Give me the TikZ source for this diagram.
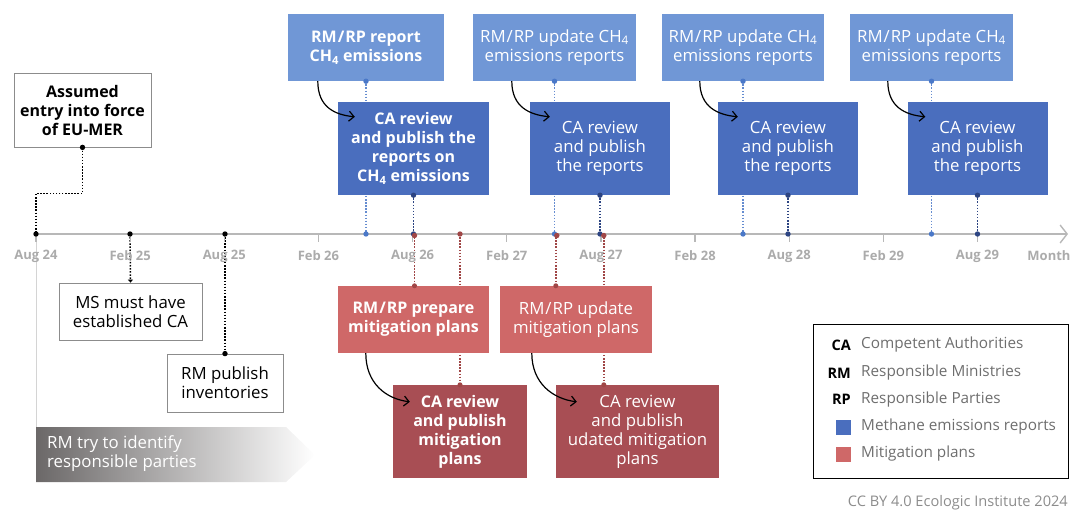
\documentclass[tikz,border=0pt]{standalone}
\usepackage{fontspec}
\setmainfont{Open Sans}
\usetikzlibrary{arrows.meta,calc}
\pgfdeclarelayer{bg}
\pgfsetlayers{bg,main}
\definecolor{lblue}{HTML}{7097D6}
\definecolor{dblue}{HTML}{4A6EBE}
\definecolor{lred}{HTML}{CF6868}
\definecolor{dred}{HTML}{A84E54}
\definecolor{dotblue}{HTML}{4A78C8}
\definecolor{dotnavy}{HTML}{2C4482}
\definecolor{dotred}{HTML}{A04646}
\definecolor{axisgray}{HTML}{B8B8B8}
\definecolor{labgray}{HTML}{ABABAB}
\definecolor{boxgray}{HTML}{8C8C8C}
\definecolor{descgray}{HTML}{6E6E6E}
\definecolor{copygray}{HTML}{8C8C8C}
\definecolor{gradgray}{HTML}{6B6868}
\definecolor{vlgray}{HTML}{D4D4D4}
\begin{document}
\begin{tikzpicture}[x=1pt,y=-1pt,
  every node/.style={inner sep=0pt, font=\fontsize{16.8}{19}\selectfont},
  bld/.style={font=\fontsize{16}{19}\selectfont\bfseries},
  legtxt/.style={text=descgray,font=\fontsize{15.3}{18}\selectfont},
  legkey/.style={font=\fontsize{14.5}{18}\selectfont\bfseries},
  lbbox/.style={fill=lblue,text=white,align=center},
  dbbox/.style={fill=dblue,text=white,align=center},
  lrbox/.style={fill=lred,text=white,align=center},
  drbox/.style={fill=dred,text=white,align=center},
  wbox/.style={draw=boxgray,line width=0.8pt,fill=white,text=black,align=center},
  conn/.style={line width=1.5pt,dash pattern=on 1.5pt off 1.6pt},
  carrow/.style={black,line width=1.2pt,-{Straight Barb[length=5pt,width=10pt]}},
  monthlab/.style={text=labgray,font=\fontsize{13}{16}\selectfont\bfseries}
]
\useasboundingbox (0,0) rectangle (1072,512);

% axis
\coordinate (axs) at (36,234);
\coordinate (axe) at (1068,234);
\draw[axisgray,line width=1.6pt,-{Straight Barb[length=7pt,width=18pt,line width=1.4pt]}] (axs) -- (axe);
\foreach \i/\lab in {0/Aug 24,1/Feb 25,2/Aug 25,3/Feb 26,4/Aug 26,5/Feb 27,6/Aug 27,7/Feb 28,8/Aug 28,9/Feb 29,10/Aug 29}{
  \draw[axisgray,line width=1.2pt] (36+\i*94.15,234) -- ++(0,8);
  \node[monthlab] (lab\i) at (36+\i*94.15,256) {\lab};
}
\node[monthlab] (labm) at (1049,256) {Month};

% gradient arrow
\coordinate (gradtop) at (36,427);
\shade[left color=gradgray,right color=white] (36,427) -- (286,427) -- (315,455) -- (286,482) -- (36,482) -- cycle;
\node[anchor=west,text=white,align=left] (rmtry) at (47,454) {RM try to identify\\responsible parties};

% top boxes
\node[lbbox,bld,minimum width=156pt,minimum height=67pt] (t1) at (366,47.5) {RM\kern1pt/\kern1ptRP report\\CH\textsubscript{4} emissions};
\node[lbbox,minimum width=163pt,minimum height=67pt] (t2) at (554.5,47.5) {RM\kern1pt/\kern1ptRP update CH\textsubscript{4}\\emissions reports};
\node[lbbox,minimum width=162pt,minimum height=67pt] (t3) at (743,47.5) {RM\kern1pt/\kern1ptRP update CH\textsubscript{4}\\emissions reports};
\node[lbbox,minimum width=163pt,minimum height=67pt] (t4) at (931.5,47.5) {RM\kern1pt/\kern1ptRP update CH\textsubscript{4}\\emissions reports};

\node[dbbox,bld,minimum width=151pt,minimum height=93pt] (d1) at (413.5,148.5) {CA review\\and publish the\\reports on\\CH\textsubscript{4} emissions};
\node[dbbox,minimum width=140pt,minimum height=93pt] (d2) at (600,148.5) {CA review\\and publish\\the reports};
\node[dbbox,minimum width=140pt,minimum height=93pt] (d3) at (788,148.5) {CA review\\and publish\\the reports};
\node[dbbox,minimum width=140pt,minimum height=93pt] (d4) at (977.5,148.5) {CA review\\and publish\\the reports};

% red boxes
\node[lrbox,bld,minimum width=151pt,minimum height=67pt] (r1) at (413.5,319.5) {RM\kern1pt/\kern1ptRP prepare\\mitigation plans};
\node[lrbox,minimum width=152pt,minimum height=67pt] (r2) at (576,319.5) {RM\kern1pt/\kern1ptRP update\\mitigation plans};
\node[drbox,bld,minimum width=134pt,minimum height=93pt] (rd1) at (460,431.5) {CA review\\and publish\\mitigation\\plans};
\node[drbox,minimum width=163pt,minimum height=93pt] (rd2) at (637.5,431.5) {CA review\\and publish\\udated mitigation\\plans};

% white boxes
\node[wbox,bld,minimum width=137pt,minimum height=74pt] (assumed) at (82.5,110) {Assumed\\entry into force\\of EU-MER};
\node[wbox,minimum width=143pt,minimum height=57pt] (ms) at (130.5,311.5) {MS must have\\established CA};
\node[wbox,minimum width=116pt,minimum height=58pt] (rmp) at (225,383) {RM publish\\inventories};

% named points
\coordinate (f25) at (130,234);
\coordinate (a25) at (225,234);
\coordinate (r2top) at ($(r2.north west)+(56,0)$);
\coordinate (rd2top) at ($(rd2.north west)+(47,0)$);

% connectors in background
\begin{pgfonlayer}{bg}
\draw[vlgray,line width=0.8pt] (axs) -- (gradtop);
\foreach \b in {t1,t2,t3,t4}{
  \draw[conn,dotblue!85] (\b.south) -- (\b.south |- axs);
}
\foreach \b in {d1,d2,d3,d4}{
  \draw[conn,dotnavy] (\b.south) -- (\b.south |- axs);
}
\draw[conn,dotred] ($(r1.north |- axs)+(1,0)$) -- ($(r1.north)+(1,0)$);
\draw[conn,dotred] (rd1.north |- axs) -- (rd1.north);
\draw[conn,dotred] (r2top |- axs) -- (r2top);
\draw[conn,dotred] ($(rd2top |- axs)+(1,0)$) -- ($(rd2top)+(1,0)$);
\draw[conn,black] (assumed.south) -- ++(0,46) -| (axs);
\draw[conn,black,-{Triangle[length=3pt,width=5pt]}] (f25) -- (ms.north);
\draw[conn,black] (a25) -- (rmp.north);
\end{pgfonlayer}

% dots
\foreach \b in {t1,t2,t3,t4}{
  \fill[dotblue] (\b.south) circle (2.7pt);
  \fill[dotblue] (\b.south |- axs) circle (2.7pt);
}
\foreach \b in {d1,d2,d3,d4}{
  \fill[dotnavy] (\b.south) circle (2.7pt);
  \fill[dotnavy] (\b.south |- axs) circle (2.7pt);
}
\fill[dotred] ($(r1.north |- axs)+(1,1.5)$) circle (2.7pt);
\fill[dotred] ($(r1.north)+(1,0)$) circle (2.5pt);
\fill[dotred] (rd1.north |- axs) circle (2.7pt);
\fill[dotred] (rd1.north) circle (2.5pt);
\fill[dotred] ($(r2top |- axs)+(1,1.5)$) circle (2.7pt);
\fill[dotred] (r2top) circle (2.5pt);
\fill[dotred] ($(rd2top |- axs)+(1,1.5)$) circle (2.7pt);
\fill[dotred] ($(rd2top)+(1,0)$) circle (2.5pt);
\fill[black] (assumed.south) circle (2.7pt);
\fill[black] (axs) circle (2.7pt);
\fill[black] (f25) circle (2.7pt);
\fill[black] (a25) circle (2.7pt);
\fill[black] (rmp.north) circle (2.7pt);

% curved arrows
\coordinate (t1s) at ($(t1.south west)+(30,0)$);
\coordinate (d1e) at ($(d1.north west)+(17,15)$);
\coordinate (t2s) at ($(t2.south west)+(39,0)$);
\coordinate (d2e) at ($(d2.north west)+(20,15)$);
\coordinate (t3s) at ($(t3.south west)+(38,0)$);
\coordinate (d3e) at ($(d3.north west)+(20,15)$);
\coordinate (t4s) at ($(t4.south west)+(38,0)$);
\coordinate (d4e) at ($(d4.north west)+(18,15)$);
\coordinate (r1s) at ($(r1.south west)+(28,0)$);
\coordinate (rd1e) at ($(rd1.north west)+(17,17)$);
\coordinate (r2s) at ($(r2.south west)+(32,0)$);
\coordinate (rd2e) at ($(rd2.north west)+(21,17)$);
\draw[carrow] (t1s) .. controls +(0,26) and +(-20,-2) .. (d1e);
\draw[carrow] (t2s) .. controls +(0,26) and +(-20,-2) .. (d2e);
\draw[carrow] (t3s) .. controls +(0,26) and +(-20,-2) .. (d3e);
\draw[carrow] (t4s) .. controls +(0,26) and +(-20,-2) .. (d4e);
\draw[carrow] (r1s) .. controls +(0,30) and +(-24,-3) .. (rd1e);
\draw[carrow] (r2s) .. controls +(0,30) and +(-24,-3) .. (rd2e);

% legend
\node[draw=black,line width=1pt,minimum width=255pt,minimum height=154pt] (leg) at (940.5,401) {};
\node[legkey,anchor=east] (kca) at (851,345) {CA};
\node[legkey,anchor=east] (krm) at (851,373) {RM};
\node[legkey,anchor=east] (krp) at (851,399.5) {RP};
\node[fill=dblue,minimum width=15pt,minimum height=15pt] (sqb) at (843,427) {};
\node[fill=lred,minimum width=15pt,minimum height=15pt] (sqr) at (843,454) {};
\node[legtxt,anchor=west] (vca) at (861,345) {Competent Authorities};
\node[legtxt,anchor=west] (vrm) at (861,373) {Responsible Ministries};
\node[legtxt,anchor=west] (vrp) at (861,399.5) {Responsible Parties};
\node[legtxt,anchor=west] (vb) at (861,427) {Methane emissions reports};
\node[legtxt,anchor=west] (vr) at (861,454) {Mitigation plans};

\node[anchor=east,text=copygray,font=\fontsize{14.6}{17}\selectfont] (copy) at (1068,503) {CC BY 4.0 Ecologic Institute 2024};
\end{tikzpicture}
\end{document}
